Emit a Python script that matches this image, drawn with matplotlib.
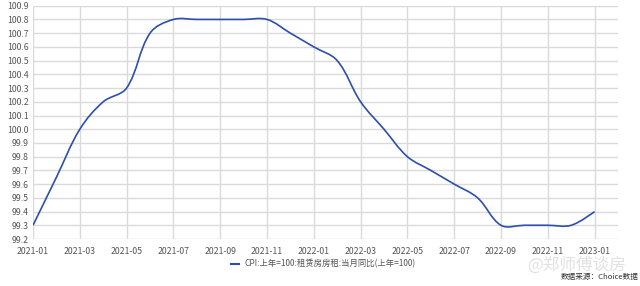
import matplotlib
matplotlib.use("Agg")
import matplotlib.pyplot as plt
from matplotlib.path import Path
from matplotlib.patches import PathPatch
from matplotlib.lines import Line2D

plt.rcParams['font.family'] = ['Noto Sans CJK SC', 'DejaVu Sans']

months = ['2021-01', '2021-02', '2021-03', '2021-04', '2021-05', '2021-06',
          '2021-07', '2021-08', '2021-09', '2021-10', '2021-11', '2021-12',
          '2022-01', '2022-02', '2022-03', '2022-04', '2022-05', '2022-06',
          '2022-07', '2022-08', '2022-09', '2022-10', '2022-11', '2022-12',
          '2023-01']
cpi_rent = [99.3, 99.65, 100.0, 100.2, 100.3, 100.7,
            100.8, 100.8, 100.8, 100.8, 100.8, 100.7,
            100.6, 100.5, 100.2, 100.0, 99.8, 99.7,
            99.6, 99.5, 99.3, 99.3, 99.3, 99.3,
            99.4]
y_ticks = [99.2, 99.3, 99.4, 99.5, 99.6, 99.7, 99.8, 99.9, 100.0,
           100.1, 100.2, 100.3, 100.4, 100.5, 100.6, 100.7, 100.8, 100.9]
legend_name = 'CPI:上年=100:租赁房房租:当月同比(上年=100)'
line_color = '#2c4fae'
grid_color = '#dadada'
text_color = '#555555'

fig = plt.figure(figsize=(6.4, 2.86), dpi=100)
ax = fig.add_axes([0.0516, 0.1643, 0.914, 0.8157])

x = list(range(len(cpi_rent)))

# smooth curve (echarts-like bezier), control points in data space
sx, sy = 23.4, 138.0  # px per month / px per unit
smooth = 0.35
verts = [(x[0], cpi_rent[0])]
codes = [Path.MOVETO]
n = len(x)
cps = []
for i in range(n):
    if i == 0 or i == n - 1:
        cps.append(((x[i], cpi_rent[i]), (x[i], cpi_rent[i])))
        continue
    vx = (x[i + 1] - x[i - 1])
    vy = (cpi_rent[i + 1] - cpi_rent[i - 1])
    d0 = ((x[i] - x[i - 1]) * sx) ** 2 + ((cpi_rent[i] - cpi_rent[i - 1]) * sy) ** 2
    d1 = ((x[i + 1] - x[i]) * sx) ** 2 + ((cpi_rent[i + 1] - cpi_rent[i]) * sy) ** 2
    d0, d1 = d0 ** 0.5, d1 ** 0.5
    r0 = d0 / (d0 + d1)
    r1 = d1 / (d0 + d1)
    cps.append(((x[i] - vx * smooth * r0, cpi_rent[i] - vy * smooth * r0),
                (x[i] + vx * smooth * r1, cpi_rent[i] + vy * smooth * r1)))
for i in range(1, n):
    verts += [cps[i - 1][1], cps[i][0], (x[i], cpi_rent[i])]
    codes += [Path.CURVE4, Path.CURVE4, Path.CURVE4]
patch = PathPatch(Path(verts, codes), facecolor='none', edgecolor=line_color,
                  lw=1.2, zorder=3)
ax.add_patch(patch)

ax.set_xlim(0, 25)
ax.set_ylim(99.2, 100.9)
ax.set_xticks(x[::2])
ax.set_xticklabels(months[::2])
ax.set_yticks(y_ticks)
ax.set_yticklabels(['%.1f' % v for v in y_ticks])
ax.grid(True, color=grid_color, lw=1.0)
ax.set_axisbelow(True)
for s in ax.spines.values():
    s.set_visible(False)
ax.tick_params(axis='both', length=0, labelsize=6.3, colors=text_color, pad=3)
ax.tick_params(axis='x', pad=6)

handle = Line2D([], [], color=line_color, lw=1.5)
fig.legend([handle], [legend_name], loc='center', bbox_to_anchor=(0.505, 0.077),
           frameon=False, fontsize=6, labelcolor=text_color, handlelength=1.0,
           handletextpad=0.6)

fig.text(0.978, 0.072, '@郑师傅谈房', fontsize=12, color='#e2e2e2',
         ha='right', va='center')
fig.text(0.997, 0.032, '数据来源：Choice数据', fontsize=5.5, color='#333333',
         ha='right', va='center')

fig.savefig('out.png', dpi=100)
